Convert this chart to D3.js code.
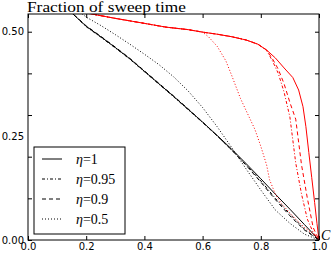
<!DOCTYPE html>
<html>
<head>
<meta charset="utf-8">
<script src="https://cdn.jsdelivr.net/npm/d3@7"></script>
<style>
  body { margin: 0; background: #fff; }
  svg { display: block; }
  .tick text { font-family: "DejaVu Sans", sans-serif; font-size: 10px; fill: #000; }
  .tick line { stroke: #000; }
</style>
</head>
<body>
<svg id="chart"></svg>
<script>
// tick values and labels
const xTicks = [0, 0.2, 0.4, 0.6, 0.8, 1.0];
const yTicks = [0, 0.1, 0.2, 0.3, 0.4, 0.5];
const yLabels = [0, 0.25, 0.5];

// black curves
const blackEta1X = [0.14, 0.2, 0.25, 0.3, 0.35, 0.4, 0.45, 0.5, 0.55, 0.6, 0.65, 0.7, 0.75, 0.8, 0.85, 0.9, 0.95, 1.0];
const blackEta1Y = [0.552, 0.513, 0.488, 0.462, 0.435, 0.405, 0.375, 0.345, 0.314, 0.283, 0.251, 0.218, 0.183, 0.147, 0.110, 0.074, 0.037, 0];
const blackEta95X = [0.14, 0.2, 0.25, 0.3, 0.35, 0.4, 0.45, 0.5, 0.55, 0.6, 0.65, 0.7, 0.75, 0.8, 0.85, 0.9, 0.95, 1.0];
const blackEta95Y = [0.552, 0.512, 0.487, 0.461, 0.434, 0.404, 0.374, 0.344, 0.313, 0.282, 0.250, 0.216, 0.180, 0.142, 0.100, 0.062, 0.026, 0];
const blackEta9X = [0.14, 0.2, 0.25, 0.3, 0.35, 0.4, 0.45, 0.5, 0.55, 0.6, 0.65, 0.7, 0.75, 0.8, 0.85, 0.9, 0.95, 1.0];
const blackEta9Y = [0.552, 0.514, 0.489, 0.463, 0.436, 0.406, 0.376, 0.346, 0.315, 0.283, 0.250, 0.216, 0.179, 0.139, 0.097, 0.058, 0.024, 0];
const blackEta5X = [0.17, 0.2, 0.25, 0.3, 0.35, 0.4, 0.45, 0.5, 0.55, 0.6, 0.65, 0.7, 0.75, 0.8, 0.85, 0.9, 0.95, 1.0];
const blackEta5Y = [0.552, 0.535, 0.515, 0.493, 0.470, 0.446, 0.421, 0.392, 0.358, 0.318, 0.272, 0.222, 0.170, 0.120, 0.072, 0.040, 0.014, 0];

// red curves
const redEta1X = [0.2, 0.3, 0.4, 0.474, 0.55, 0.6, 0.65, 0.7, 0.75, 0.79, 0.82, 0.85, 0.88, 0.91, 0.93, 0.945, 0.955, 0.965, 0.975, 0.985, 0.993, 1.0];
const redEta1Y = [0.545, 0.532, 0.52, 0.511, 0.505, 0.499, 0.494, 0.488, 0.48, 0.47, 0.456, 0.437, 0.413, 0.39, 0.36, 0.32, 0.272, 0.21, 0.15, 0.09, 0.04, 0];
const redEta95X = [0.2, 0.3, 0.4, 0.474, 0.55, 0.6, 0.65, 0.7, 0.75, 0.79, 0.82, 0.84, 0.86, 0.88, 0.9, 0.92, 0.94, 0.96, 0.98, 1.0];
const redEta95Y = [0.545, 0.532, 0.52, 0.511, 0.505, 0.499, 0.494, 0.488, 0.48, 0.47, 0.455, 0.43, 0.40, 0.355, 0.295, 0.185, 0.11, 0.05, 0.018, 0];
const redEta9X = [0.2, 0.3, 0.4, 0.474, 0.55, 0.6, 0.65, 0.7, 0.75, 0.79, 0.82, 0.84, 0.86, 0.88, 0.9, 0.92, 0.94, 0.96, 0.98, 1.0];
const redEta9Y = [0.545, 0.532, 0.52, 0.511, 0.505, 0.499, 0.494, 0.488, 0.48, 0.47, 0.456, 0.435, 0.41, 0.375, 0.33, 0.29, 0.18, 0.10, 0.03, 0];
const redEta5X = [0.2, 0.3, 0.4, 0.474, 0.55, 0.6, 0.62, 0.65, 0.68, 0.7, 0.73, 0.76, 0.78, 0.8, 0.82, 0.83, 0.85, 0.87, 0.9, 0.92, 0.95, 0.98, 1.0];
const redEta5Y = [0.545, 0.532, 0.52, 0.511, 0.505, 0.499, 0.488, 0.465, 0.43, 0.395, 0.34, 0.295, 0.265, 0.225, 0.18, 0.145, 0.11, 0.088, 0.065, 0.05, 0.03, 0.015, 0];

const svgWidth = 332;
const svgHeight = 254;
const margin = { top: 14, right: 13, bottom: 14, left: 28 };
const width = svgWidth - margin.left - margin.right;
const height = svgHeight - margin.top - margin.bottom;

const svg = d3.select("#chart").attr("width", svgWidth).attr("height", svgHeight);
const g = svg.append("g").attr("transform", `translate(${margin.left},${margin.top})`);

const xScale = d3.scaleLinear().domain([0, 1]).range([0, width]);
const yScale = d3.scaleLinear().domain([0, 0.5425]).range([height, 0]);

g.append("defs").append("clipPath").attr("id", "clip")
  .append("rect").attr("width", width).attr("height", height);

// ticks (inward) on all four sides
g.append("g").attr("transform", `translate(0,${height})`)
  .call(d3.axisBottom(xScale).tickValues(xTicks).tickSizeInner(-4).tickSizeOuter(0).tickPadding(3)
    .tickFormat(d3.format(".1f")));
g.append("g")
  .call(d3.axisTop(xScale).tickValues(xTicks).tickSizeInner(-4).tickSizeOuter(0).tickFormat(""));
g.append("g")
  .call(d3.axisLeft(yScale).tickValues(yTicks).tickSizeInner(-4).tickSizeOuter(0).tickFormat(""));
g.append("g").attr("transform", `translate(${width},0)`)
  .call(d3.axisRight(yScale).tickValues(yTicks).tickSizeInner(-4).tickSizeOuter(0).tickFormat(""));
g.append("g")
  .call(d3.axisLeft(yScale).tickValues(yLabels).tickSize(0).tickPadding(4).tickFormat(d3.format(".2f")));
g.selectAll(".domain").remove();

// curves
const series = [
  { x: blackEta5X, y: blackEta5Y, color: "#000", dash: "1,2" },
  { x: blackEta9X, y: blackEta9Y, color: "#000", dash: "4,3" },
  { x: blackEta95X, y: blackEta95Y, color: "#000", dash: "3,2,1,2" },
  { x: blackEta1X, y: blackEta1Y, color: "#000", dash: null },
  { x: redEta5X, y: redEta5Y, color: "#ff0000", dash: "1,2" },
  { x: redEta9X, y: redEta9Y, color: "#ff0000", dash: "4,3" },
  { x: redEta95X, y: redEta95Y, color: "#ff0000", dash: "3,2,1,2" },
  { x: redEta1X, y: redEta1Y, color: "#ff0000", dash: null }
];

const line = d3.line()
  .x((d) => xScale(d[0]))
  .y((d) => yScale(d[1]));

g.append("g").attr("clip-path", "url(#clip)")
  .selectAll("path")
  .data(series)
  .enter()
  .append("path")
  .attr("d", (s) => line(s.x.map((v, i) => [v, s.y[i]])))
  .attr("fill", "none")
  .attr("stroke", (s) => s.color)
  .attr("stroke-width", 1)
  .attr("stroke-dasharray", (s) => s.dash);

// frame
g.append("rect")
  .attr("width", width)
  .attr("height", height)
  .attr("fill", "none")
  .attr("stroke", "#000")
  .attr("stroke-width", 1);

// title and axis label
svg.append("text")
  .attr("x", 27)
  .attr("y", 12)
  .attr("textLength", 159)
  .attr("lengthAdjust", "spacingAndGlyphs")
  .style("font-family", "'Liberation Serif', serif")
  .style("font-size", "15px")
  .text("Fraction of sweep time");

svg.append("text")
  .attr("x", 321)
  .attr("y", 240)
  .style("font-family", "'Liberation Serif', serif")
  .style("font-style", "italic")
  .style("font-size", "14px")
  .text("C");

// legend
const legendItems = [
  { label: "1", dash: null },
  { label: "0.95", dash: "3,2,1,2" },
  { label: "0.9", dash: "4,3" },
  { label: "0.5", dash: "1,2" }
];

const legend = svg.append("g").attr("transform", "translate(34,147)");
legend.append("rect")
  .attr("width", 91)
  .attr("height", 87)
  .attr("fill", "#fff")
  .attr("stroke", "#000")
  .attr("stroke-width", 1);

const entry = legend.selectAll(".entry")
  .data(legendItems)
  .enter()
  .append("g")
  .attr("class", "entry")
  .attr("transform", (d, i) => `translate(0,${12 + i * 20})`);

entry.append("line")
  .attr("x1", 8)
  .attr("x2", 28)
  .attr("stroke", "#000")
  .attr("stroke-width", 1)
  .attr("stroke-dasharray", (d) => d.dash);

const label = entry.append("text")
  .attr("x", 42)
  .attr("y", 5)
  .style("font-family", "'Liberation Serif', serif")
  .style("font-size", "14px");
label.append("tspan").style("font-style", "italic").text("η");
label.append("tspan").text("=");
label.append("tspan").text((d) => d.label);
</script>
</body>
</html>
